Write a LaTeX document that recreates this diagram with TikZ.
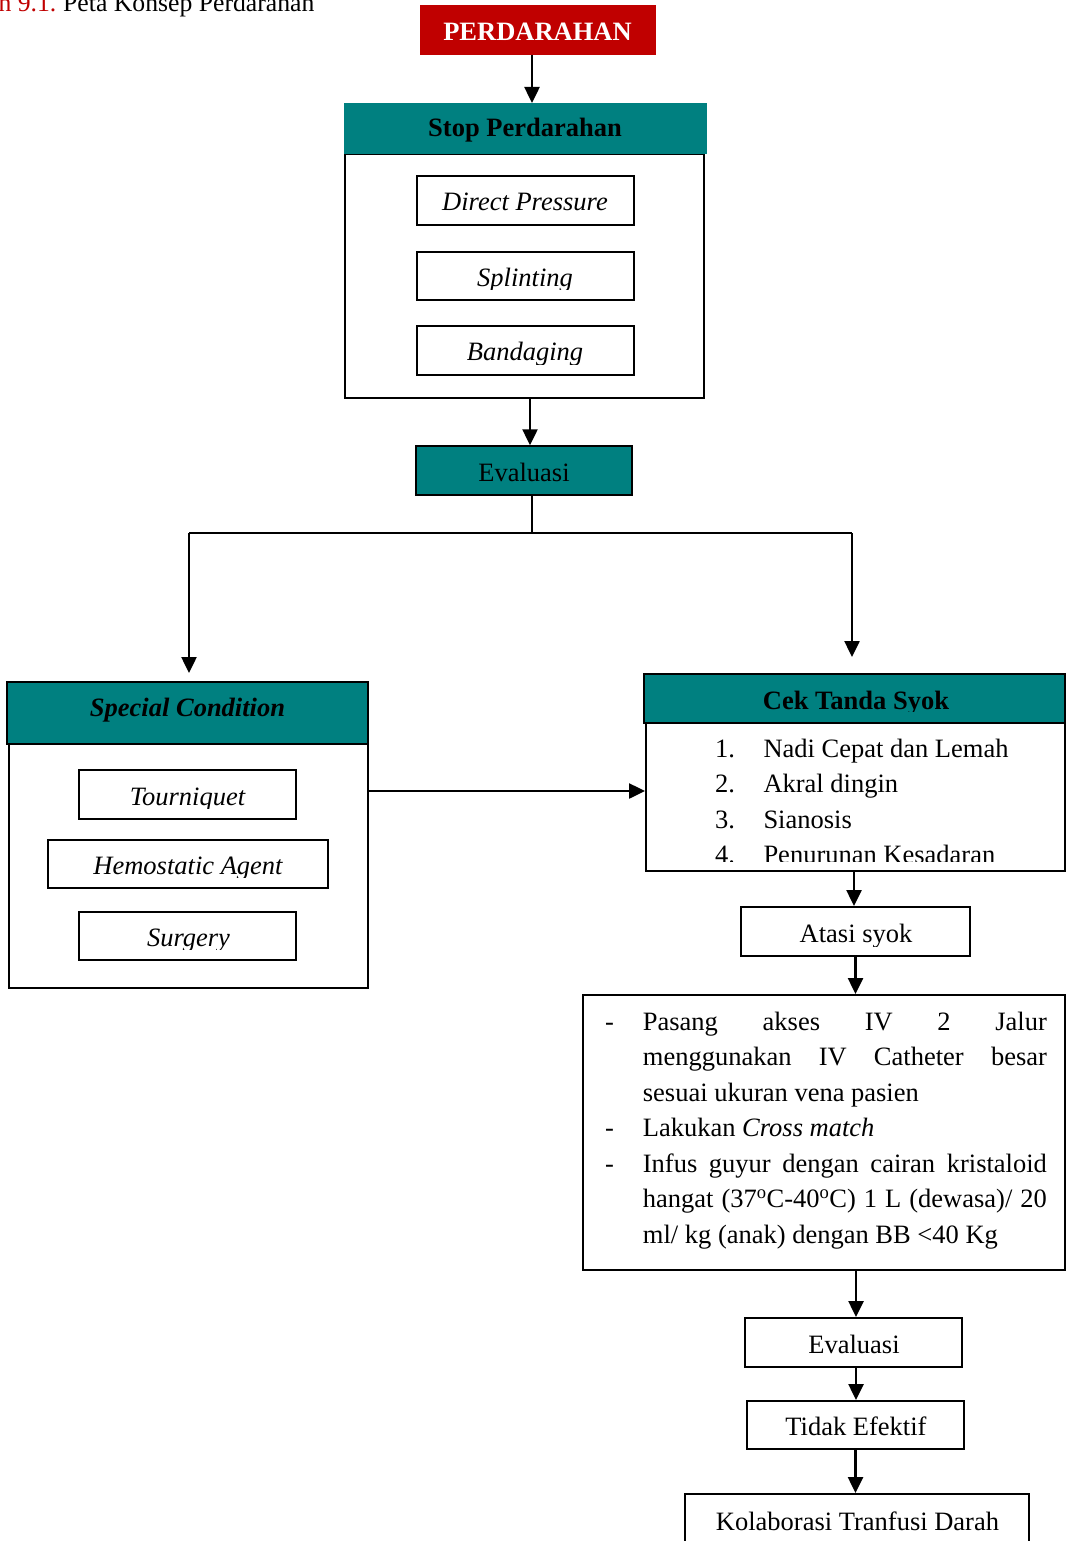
\documentclass[tikz,border=0pt]{standalone}
\usepackage{fontspec}
\setmainfont{Liberation Serif}
\usetikzlibrary{arrows.meta,calc}
\definecolor{tealc}{HTML}{008080}
\definecolor{redc}{HTML}{C00000}
\newcommand\myfs{\fontsize{26.5}{32}\selectfont}
\newcommand\capfs{\fontsize{25.7}{30}\selectfont}
\begin{document}
\begin{tikzpicture}[x=1pt,y=-1pt,
  rect/.style 2 args={draw=black, line width=2pt, fill=white, inner sep=0pt, minimum width=#1, minimum height=#2},
  hdr/.style={fill=tealc, line width=1.5pt},
  txt/.style={inner sep=0pt, anchor=base, font=\myfs},
  arr/.style={line width=2.5pt, -{Triangle[length=16pt,width=15pt]}},
  ln/.style={line width=2pt}]
\useasboundingbox (0,0) rectangle (1066,1541);

% caption
\node[txt, anchor=base west, font=\capfs] (cap) at (63,12) {Peta Konsep Perdarahan};
\node[txt, anchor=base east, font=\capfs, text=redc] (capn) at ([xshift=-6.4pt]cap.base west) {an 9.1.};

% PERDARAHAN
\node[rect={234}{48}, fill=redc, draw=redc] (perd) at (538,30) {};
\node[txt, text=white, font=\myfs\bfseries] (perdt) at (537.5,40.7) {PERDARAHAN};

% Stop Perdarahan
\node[rect={359}{244}] (stopbox) at (524.5,276) {};
\node[rect={361}{49}, fill=tealc, draw=tealc] (stophdr) at (525.5,128.5) {};
\node[txt, font=\myfs\bfseries] (stopt) at (525,137) {Stop Perdarahan};

\node[rect={217}{49}] (dp) at (525.5,200.5) {};
\node[txt, font=\myfs\itshape] (dpt) at (525,211) {Direct Pressure};

\node[rect={217}{48}] (spl) at (525.5,276) {};
\begin{scope}
\clip (spl.north west) rectangle ($(spl.south east)+(0,-12)$);
\node[txt, font=\myfs\itshape] (splt) at (525,286.7) {Splinting};
\end{scope}

\node[rect={217}{49}] (band) at (525.5,350.5) {};
\begin{scope}
\clip (band.north west) rectangle ($(band.south east)+(0,-12)$);
\node[txt, font=\myfs\itshape] (bandt) at (525,360.7) {Bandaging};
\end{scope}

% Evaluasi 1
\node[rect={216}{49}, hdr] (eval1) at (524,470.5) {};
\node[txt] (eval1t) at (524,481.7) {Evaluasi};

% Special Condition
\node[rect={359}{244}] (specbox) at (188.5,866) {};
\node[rect={361}{62}, hdr] (spechdr) at (187.5,713) {};
\node[txt, font=\myfs\bfseries\itshape] (spect) at (187.5,716.7) {Special Condition};

\node[rect={217}{49}] (tourn) at (187.5,794.5) {};
\begin{scope}
\clip (tourn.north west) rectangle ($(tourn.south east)+(0,-12)$);
\node[txt, font=\myfs\itshape] (tournt) at (187.5,805) {Tourniquet};
\end{scope}

\node[rect={280}{48}] (hemo) at (188,864) {};
\begin{scope}
\clip (hemo.north west) rectangle ($(hemo.south east)+(0,-12)$);
\node[txt, font=\myfs\itshape] (hemot) at (188,874.3) {Hemostatic Agent};
\end{scope}

\node[rect={217}{48}] (surg) at (187.5,936) {};
\begin{scope}
\clip (surg.north west) rectangle ($(surg.south east)+(0,-12)$);
\node[txt, font=\myfs\itshape] (surgt) at (188.5,946.7) {Surgery};
\end{scope}

% Cek Tanda Syok
\node[rect={419}{148}] (cekbox) at (855.5,797) {};
\node[rect={421}{49}, hdr] (cekhdr) at (854.5,698.5) {};
\begin{scope}
\clip (cekhdr.north west) rectangle ($(cekhdr.south east)+(0,-12)$);
\node[txt, font=\myfs\bfseries] (cekt) at (856,709) {Cek Tanda Syok};
\end{scope}
\begin{scope}
\clip (646,724) rectangle (1064,861);
\node[txt, anchor=base west] (n1) at (715,757) {1.};
\node[txt, anchor=base west] (i1) at (763.3,757) {Nadi Cepat dan Lemah};
\node[txt, anchor=base west] (n2) at (715,792.5) {2.};
\node[txt, anchor=base west] (i2) at (763.3,792.5) {Akral dingin};
\node[txt, anchor=base west] (n3) at (715,828) {3.};
\node[txt, anchor=base west] (i3) at (763.3,828) {Sianosis};
\node[txt, anchor=base west] (n4) at (715,863.5) {4.};
\node[txt, anchor=base west] (i4) at (763.3,863.5) {Penurunan Kesadaran};
\end{scope}

% Atasi syok
\node[rect={229}{49}] (atasi) at (855.5,931.5) {};
\begin{scope}
\clip (atasi.north west) rectangle ($(atasi.south east)+(0,-11)$);
\node[txt] (atasit) at (856,942.7) {Atasi syok};
\end{scope}

% big box
\node[rect={482}{275}] (bigbox) at (824,1132.5) {};
\node[txt, anchor=base west] (d1) at (605,1030) {-};
\node[txt, anchor=base west] (p1) at (642.7,1030) {\makebox[404pt][s]{Pasang akses IV 2 Jalur}};
\node[txt, anchor=base west] (p2) at (642.7,1065.5) {\makebox[404pt][s]{menggunakan IV Catheter besar}};
\node[txt, anchor=base west] (p3) at (642.7,1101) {sesuai ukuran vena pasien};
\node[txt, anchor=base west] (d2) at (605,1136.5) {-};
\node[txt, anchor=base west] (p4) at (642.7,1136.5) {Lakukan \textit{Cross match}};
\node[txt, anchor=base west] (d3) at (605,1172) {-};
\node[txt, anchor=base west] (p5) at (642.7,1172) {\makebox[404pt][s]{Infus guyur dengan cairan kristaloid}};
\node[txt, anchor=base west] (p6) at (642.7,1207.5) {\makebox[404pt][s]{hangat (37\textsuperscript{o}C-40\textsuperscript{o}C) 1 L (dewasa)/ 20}};
\node[txt, anchor=base west] (p7) at (642.7,1243) {ml/ kg (anak) dengan BB <40 Kg};

% bottom chain
\node[rect={217}{49}] (eval2) at (853.5,1342.5) {};
\node[txt] (eval2t) at (854,1353) {Evaluasi};
\node[rect={217}{48}] (tidak) at (855.5,1425) {};
\node[txt] (tidakt) at (856,1435) {Tidak Efektif};
\node[rect={344}{56}] (kolab) at (857,1522) {};
\node[txt] (kolabt) at (857.5,1530) {Kolaborasi Tranfusi Darah};

% connectors
\draw[arr] ([xshift=-6pt]perd.south) -- ([xshift=-6pt]perd.south |- stophdr.north);
\draw[arr] ([xshift=5.5pt]stopbox.south) -- ([xshift=5.5pt]stopbox.south |- eval1.north);
\coordinate (jn) at (532,533);
\coordinate (jl) at (189,533);
\coordinate (jr) at (852,533);
\coordinate (al) at (189,673);
\coordinate (ar) at (852,657);
\draw[ln] ([xshift=8pt]eval1.south) -- (jn);
\draw[ln] (jl) -- (jr);
\draw[arr] (jl) -- (al);
\draw[arr] (jr) -- (ar);
\draw[arr] ([yshift=75pt]specbox.east) -- ([yshift=75pt]specbox.east -| cekbox.west);
\draw[arr] ([xshift=-1.5pt]cekbox.south) -- ([xshift=-1.5pt]cekbox.south |- atasi.north);
\draw[arr] (atasi.south) -- (atasi.south |- bigbox.north);
\draw[arr] ([xshift=2.5pt]eval2.north |- bigbox.south) -- ([xshift=2.5pt]eval2.north);
\draw[arr] ([xshift=2.5pt]eval2.south) -- ([xshift=2.5pt]eval2.south |- tidak.north);
\draw[arr] (tidak.south) -- (tidak.south |- kolab.north);
\end{tikzpicture}
\end{document}
